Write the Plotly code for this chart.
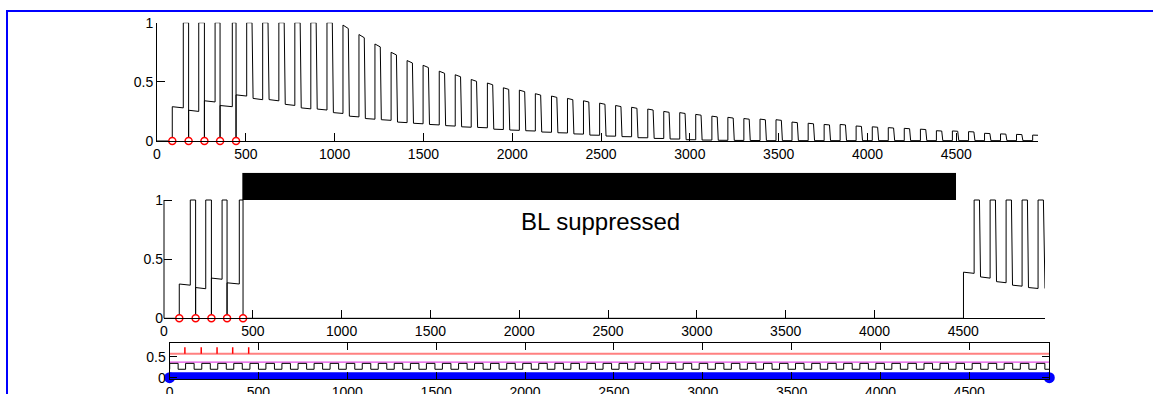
import plotly.graph_objects as go

# ---------------- data ----------------
# stimulation phase (first ~450 ms)
stim_times = [86, 178, 267, 355, 445]
stim_trough_start = [0.29, 0.26, 0.34, 0.30]
stim_trough_end = [0.28, 0.25, 0.33, 0.29]
stim_rise = [148, 235, 327, 424]
after_stim_level = [0.39, 0.38]

# free-running pulses, top panel
pulse_on = [505, 595, 686, 776, 866, 957, 1047, 1137, 1227, 1318,
            1408, 1498, 1589, 1679, 1769, 1860, 1950, 2040, 2130, 2221,
            2311, 2401, 2492, 2582, 2672, 2763, 2853, 2943, 3033, 3124,
            3214, 3304, 3395, 3485, 3575, 3666, 3756, 3846, 3936, 4027,
            4117, 4207, 4298, 4388, 4478, 4569, 4659, 4749, 4839, 4930]
pulse_peak = [1.0, 1.0, 1.0, 1.0, 1.0, 1.0, 0.98, 0.90, 0.82, 0.75,
              0.68, 0.64, 0.59, 0.56, 0.52, 0.49, 0.45, 0.43, 0.40, 0.38,
              0.36, 0.34, 0.32, 0.30, 0.285, 0.27, 0.25, 0.24, 0.225, 0.21,
              0.20, 0.19, 0.185, 0.18, 0.16, 0.15, 0.14, 0.14, 0.127, 0.12,
              0.113, 0.107, 0.10, 0.087, 0.085, 0.079, 0.065, 0.06, 0.056, 0.05]
pulse_trough = [0.36, 0.35, 0.31, 0.28, 0.27, 0.24, 0.21, 0.19, 0.18, 0.16,
                0.15, 0.14, 0.13, 0.12, 0.115, 0.10, 0.093, 0.087, 0.076, 0.07,
                0.06, 0.05, 0.042, 0.037, 0.028, 0.022, 0.017, 0.011, 0.008, 0.006,
                0.005, 0.004, 0.003, 0.003, 0.003, 0.003, 0.003, 0.003, 0.003, 0.003,
                0.003, 0.003, 0.003, 0.003, 0.003, 0.003, 0.003, 0.003, 0.003, 0.05]

# middle panel: recovery after suppression
bl_start, bl_end = 441, 4459
bl_low, bl_high = 1.0, 1.23
release_time = 4501
release_level = [0.39, 0.38]
rec_on = [4561, 4651, 4741, 4831, 4921]
rec_peak = [1.0, 1.0, 1.0, 1.0, 1.0]
rec_trough = [0.35, 0.31, 0.28, 0.26, 0.26]

t_end = 4960
hi_dur = 30
fall_dur = 6

# bottom panel
stim_base = [0.57]
stim_spike = [0.72]
mag_level = [0.37]
sq_low, sq_high = 0.20, 0.34
sq_rise = [0, 90, 181, 271, 361, 452, 542, 632, 723, 813, 903, 994, 1084, 1174, 1264,
           1355, 1445, 1535, 1626, 1716, 1806, 1897, 1987, 2077, 2168, 2258, 2348, 2439,
           2529, 2619, 2709, 2800, 2890, 2980, 3071, 3161, 3251, 3342, 3432, 3522, 3613,
           3703, 3793, 3884, 3974, 4064, 4154, 4245, 4335, 4425, 4516, 4606, 4696, 4787,
           4877]
sq_width = 48
t_end_bottom = 4950
blue_x = [0, 4950]
blue_y = [0, 0]

x_ticks = [0, 500, 1000, 1500, 2000, 2500, 3000, 3500, 4000, 4500]


def stim_phase():
    xs, ys = [0, stim_times[0]], [0, 0]
    for i, s in enumerate(stim_times[:-1]):
        xs += [s, s, stim_rise[i], stim_rise[i], stim_times[i + 1]]
        ys += [0, stim_trough_start[i], stim_trough_end[i], 1, 1]
    xs += [stim_times[-1]]
    ys += [0]
    return xs, ys


def pulses(on, peak, trough, start_level, t_stop):
    xs, ys = [], []
    prev = start_level
    for k, t0 in enumerate(on):
        xs += [t0, t0]
        ys += [prev, peak[k]]
        t1 = min(t0 + hi_dur, t_stop)
        xs += [t1]
        ys += [peak[k] * 0.97 if peak[k] < 1 else peak[k]]
        if t0 + hi_dur < t_stop:
            t2 = min(t0 + hi_dur + fall_dur, t_stop)
            xs += [t2]
            ys += [trough[k]]
            nxt = on[k + 1] if k + 1 < len(on) else t_stop
            xs += [nxt]
            ys += [trough[k] * 0.97]
            prev = trough[k] * 0.97
    return xs, ys


# top
sx, sy = stim_phase()
tx = sx + [stim_times[-1]]
ty = sy + [after_stim_level[0]]
px, py = pulses(pulse_on, pulse_peak, pulse_trough, after_stim_level[1], t_end)
tx += px
ty += py

# middle
mx = sx + [release_time, release_time, rec_on[0]]
my = sy + [0, release_level[0], release_level[1]]
rx, ry = pulses(rec_on, rec_peak, rec_trough, release_level[1], t_end)
mx += rx
my += ry

# bottom stim spikes (separate vertical segments)
bx, by = [], []
for s in stim_times:
    bx += [s, s, None]
    by += [stim_base[0], stim_spike[0], None]

qx, qy = [0], [sq_high]
for r in sq_rise:
    qx += [r, r, min(r + sq_width, t_end_bottom), min(r + sq_width, t_end_bottom)]
    qy += [sq_low, sq_high, sq_high, sq_low]
qx += [t_end_bottom]
qy += [sq_low]

W, H = 1153, 394


def dx(a, b):
    return [a / W, b / W]


def dy(top_px, bottom_px):
    return [1 - bottom_px / H, 1 - top_px / H]


fig = go.Figure()
fig.add_trace(go.Scatter(x=tx, y=ty, mode="lines", line=dict(color="black", width=1),
                         xaxis="x", yaxis="y", showlegend=False, hoverinfo="skip"))
fig.add_trace(go.Scatter(x=stim_times, y=[0] * len(stim_times), mode="markers",
                         marker=dict(symbol="circle", size=7, color="white",
                                     line=dict(color="red", width=1.5)),
                         xaxis="x", yaxis="y", showlegend=False, cliponaxis=False))

fig.add_trace(go.Scatter(x=[bl_start, bl_end, bl_end, bl_start, bl_start],
                         y=[bl_low, bl_low, bl_high, bl_high, bl_low], fill="toself",
                         fillcolor="black", mode="lines", line=dict(width=0, color="black"),
                         xaxis="x2", yaxis="y2", showlegend=False))
fig.add_trace(go.Scatter(x=mx, y=my, mode="lines", line=dict(color="black", width=1),
                         xaxis="x2", yaxis="y2", showlegend=False))
fig.add_trace(go.Scatter(x=stim_times, y=[0] * len(stim_times), mode="markers",
                         marker=dict(symbol="circle", size=7, color="white",
                                     line=dict(color="red", width=1.5)),
                         xaxis="x2", yaxis="y2", showlegend=False, cliponaxis=False))

fig.add_trace(go.Scatter(x=[0, t_end_bottom], y=[stim_base[0]] * 2, mode="lines",
                         line=dict(color="#ff8080", width=2), xaxis="x3", yaxis="y3",
                         showlegend=False))
fig.add_trace(go.Scatter(x=bx, y=by, mode="lines", line=dict(color="red", width=1.5),
                         xaxis="x3", yaxis="y3", showlegend=False, connectgaps=False))
fig.add_trace(go.Scatter(x=[0, t_end_bottom], y=[mag_level[0]] * 2, mode="lines",
                         line=dict(color="#e020e0", width=1), xaxis="x3", yaxis="y3",
                         showlegend=False))
fig.add_trace(go.Scatter(x=qx, y=qy, mode="lines", line=dict(color="black", width=1),
                         xaxis="x3", yaxis="y3", showlegend=False))
fig.add_trace(go.Scatter(x=blue_x, y=blue_y, mode="lines+markers",
                         line=dict(color="blue", width=11),
                         marker=dict(color="blue", size=11), xaxis="x3", yaxis="y3",
                         showlegend=False, cliponaxis=False))

font = dict(family="Liberation Sans, Arial, sans-serif", size=14, color="black")
axc = dict(showgrid=False, zeroline=False, ticks="inside", ticklen=8, tickcolor="black",
           linecolor="black", linewidth=1, tickfont=font, automargin=False)

fig.update_layout(
    template="none",
    width=W, height=H, margin=dict(l=0, r=0, t=0, b=0, autoexpand=False),
    plot_bgcolor="white", paper_bgcolor="white", showlegend=False,
    xaxis=dict(domain=dx(157, 1038), range=[0, t_end], tickvals=x_ticks, showline=True,
               anchor="y", **axc),
    yaxis=dict(domain=dy(22.7, 141), range=[0, 1], tickvals=[0, 0.5, 1], showline=True,
               anchor="x", **axc),
    xaxis2=dict(domain=dx(164, 1045), range=[0, t_end], tickvals=x_ticks, showline=True,
                anchor="y2", **axc),
    yaxis2=dict(domain=dy(172.8, 318.3), range=[0, 1.23], tickvals=[0, 0.5, 1],
                showline=False, anchor="x2", **axc),
    xaxis3=dict(domain=dx(169.6, 1049.3), range=[0, t_end_bottom], tickvals=x_ticks,
                showline=True, mirror="ticks", anchor="y3", **axc),
    yaxis3=dict(domain=dy(342.7, 379.4), range=[-0.04, 0.83], tickvals=[0, 0.5],
                showline=True, mirror="ticks", anchor="x3", **axc),
)
fig.update_layout(xaxis3=dict(ticklen=7), yaxis3=dict(ticklen=7))

fig.add_annotation(x=2455, y=0.82, xref="x2", yref="y2", text="BL suppressed",
                   showarrow=False, font=dict(family="Liberation Sans, Arial, sans-serif",
                                              size=24, color="black"))

# middle panel y axis line only spans 0..1
fig.add_shape(type="line", xref="paper", yref="paper", x0=164 / W, x1=164 / W,
              y0=1 - 318.3 / H, y1=1 - 200 / H, line=dict(color="black", width=1))
# blue frame
fig.add_shape(type="rect", xref="paper", yref="paper", x0=7 / W, x1=1.05,
              y0=-0.05, y1=1 - 11 / H, line=dict(color="blue", width=2))

fig.write_html("out.html", config={"displayModeBar": False},
               post_script="document.body.style.margin='0';document.body.style.overflow='hidden';")
